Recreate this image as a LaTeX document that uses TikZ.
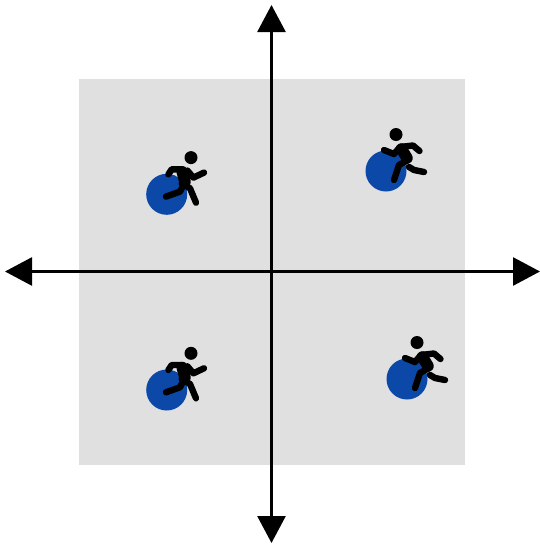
\documentclass[tikz,border=0pt]{standalone}
\usetikzlibrary{arrows.meta}
\definecolor{panel}{HTML}{E0E0E0}
\definecolor{disc}{HTML}{0B48A8}
\tikzset{
  x=1pt,y=-1pt,
  axis/.style={line width=2.7pt,black,{Triangle[length=27pt,width=28pt]}-{Triangle[length=27pt,width=28pt]}},
  limb/.style={line width=6.4pt,black,line cap=round,line join=round},
  torso/.style={line width=11.5pt,black,line cap=round,line join=round},
  discnode/.style={circle,fill=disc,draw=none,minimum size=41pt,inner sep=0pt},
  runnerA/.pic={
    \fill (24.3,-36.7) circle (6.5);
    \draw[limb] (15,-25) -- (5,-25) -- (1.7,-20);
    \draw[limb] (20.7,-23.7) -- (26.7,-16.7) -- (37.3,-21.7);
    \draw[torso] (15.5,-22.5) -- (18.3,-12.5);
    \draw[limb] (15,-11) -- (23.3,-6) -- (29.3,8.3);
    \draw[limb] (16.7,-9.3) -- (13.3,-2.7) -- (-0.7,2.3);
  },
  runnerB/.pic={
    \fill (10,-36.5) circle (6.5);
    \draw[limb] (-2,-21) -- (8,-17) -- (14,-24) -- (27,-25.5) -- (33.5,-20);
    \draw[torso] (15.5,-22) -- (21,-13);
    \draw[limb] (22,-11) -- (13,-6) -- (8,9);
    \draw[limb] (23,-4) -- (28,-1) -- (38,1);
  }
}
\begin{document}
\begin{tikzpicture}
\useasboundingbox (0,0) rectangle (540,547);
\fill[panel] (79,79) rectangle (465,465);
\node[discnode] (d1) at (166.7,194.3) {};
\node[discnode] (d2) at (386,171) {};
\node[discnode] (d3) at (166.7,390) {};
\node[discnode] (d4) at (407,379) {};
\pic at (d1) {runnerA};
\pic at (d2) {runnerB};
\pic at (d3) {runnerA};
\pic at (d4) {runnerB};
\coordinate (top) at (271.5,5);
\coordinate (bottom) at (271.5,543);
\coordinate (left) at (5,271.5);
\coordinate (right) at (540,271.5);
\draw[axis] (bottom) -- (top);
\draw[axis] (left) -- (right);
\end{tikzpicture}
\end{document}
